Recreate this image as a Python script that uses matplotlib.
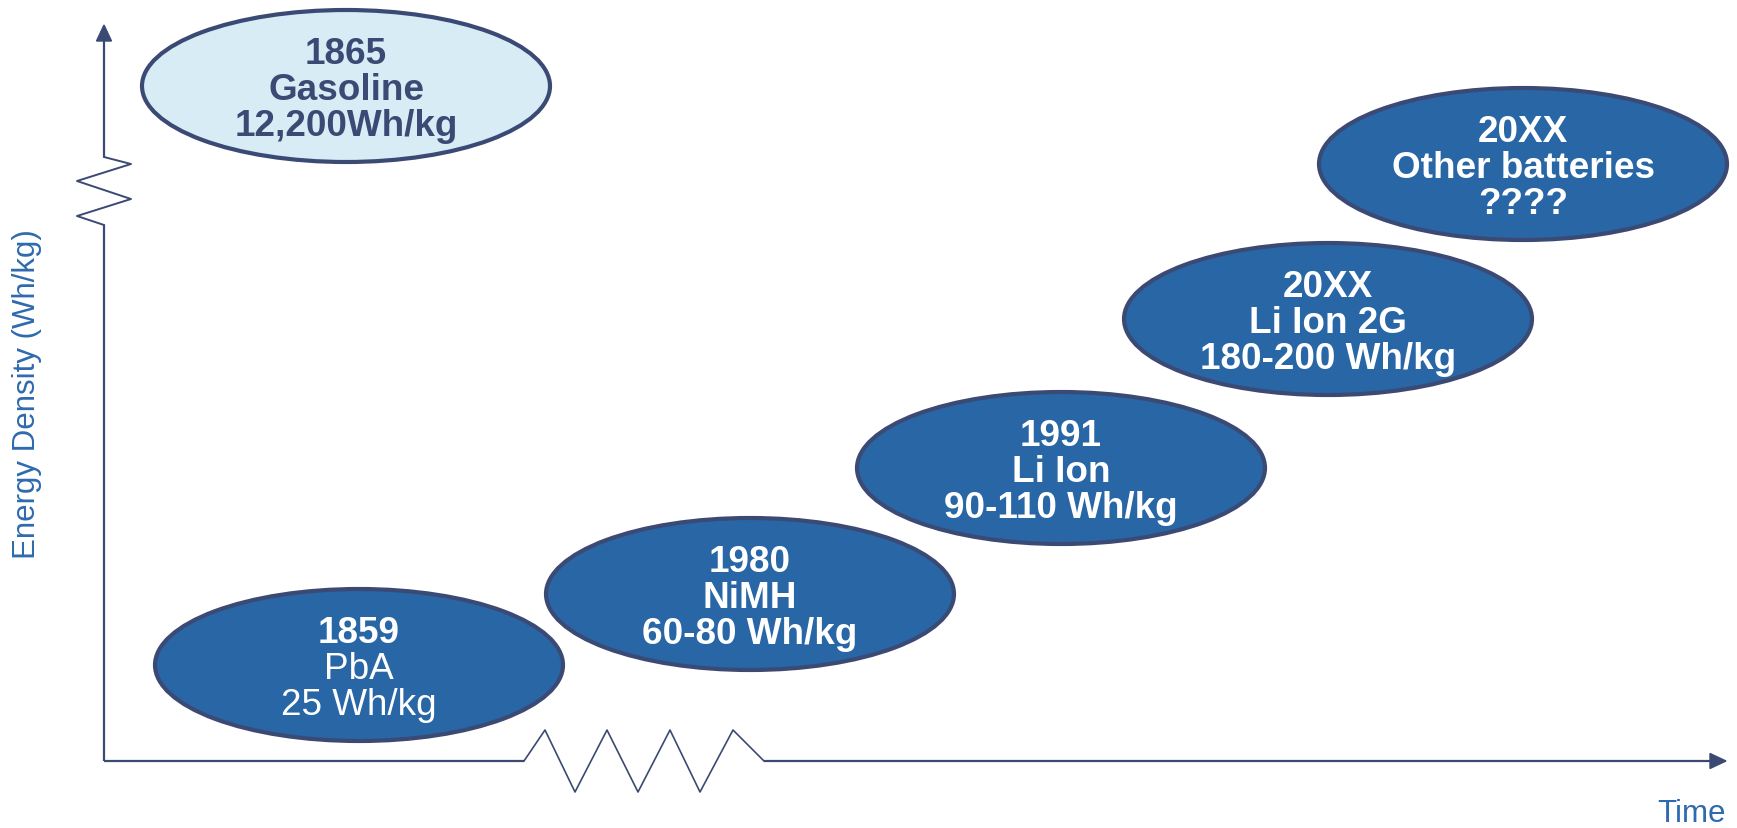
import matplotlib
matplotlib.use("Agg")
import matplotlib.pyplot as plt
from matplotlib.patches import Ellipse, Polygon

plt.rcParams['font.family'] = ['Liberation Sans', 'DejaVu Sans']

# milestones, oldest battery first, gasoline kept apart as the reference point
years = ["1859", "1980", "1991", "20XX", "20XX"]
techs = ["PbA", "NiMH", "Li Ion", "Li Ion 2G", "Other batteries"]
densities = ["25 Wh/kg", "60-80 Wh/kg", "90-110 Wh/kg", "180-200 Wh/kg", "????"]
bold_body = [False, True, True, True, True]

gas_year = "1865"
gas_name = "Gasoline"
gas_density = "12,200Wh/kg"

# layout in pixel units (figure is 1737 x 829)
W, H = 1737, 829
centers = [(359, 666), (750, 595), (1061, 469), (1328, 320), (1523, 165)]
gas_center = (346, 87)
ell_w, ell_h = 408, 152
line_gap = 36

navy = "#3B4A74"
fill_dark = "#2866A6"
fill_light = "#D7ECF5"
label_blue = "#2E6AAE"

fig = plt.figure(figsize=(W / 100, H / 100), dpi=100)
ax = fig.add_axes([0, 0, 1, 1])
ax.set_xlim(0, W)
ax.set_ylim(H, 0)
ax.axis("off")

# y axis with break
ax.plot([104, 104], [762, 226], color=navy, lw=1.6, solid_capstyle="butt")
ax.plot([104, 77, 131, 77, 131, 104], [226, 217, 200, 182, 165, 158], color=navy, lw=1.4)
ax.plot([104, 104], [158, 40], color=navy, lw=1.6, solid_capstyle="butt")
ax.add_patch(Polygon([(104, 26), (96.5, 42), (111.5, 42)], closed=True, color=navy))

# x axis with break
ax.plot([104, 524], [762, 762], color=navy, lw=1.6, solid_capstyle="butt")
ax.plot([524, 545, 575, 607, 638, 670, 700, 733, 764],
        [762, 731, 793, 731, 793, 731, 793, 731, 762], color=navy, lw=1.2)
ax.plot([764, 1712], [762, 762], color=navy, lw=1.6, solid_capstyle="butt")
ax.add_patch(Polygon([(1726, 762), (1710, 754.5), (1710, 769.5)], closed=True, color=navy))

ax.text(27, 394, "Energy Density (Wh/kg)", rotation=90, ha="center", va="center",
        fontsize=22.5, color=label_blue)
ax.text(1726, 822, "Time", ha="right", va="baseline", fontsize=22.5, color=label_blue)


def bubble(center, lines, weights, face, txt_color):
    cx, cy = center
    ax.add_patch(Ellipse((cx, cy), ell_w, ell_h, facecolor=face, edgecolor=navy,
                         lw=3.0, zorder=3))
    for i, (s, wt) in enumerate(zip(lines, weights)):
        ax.text(cx, cy + 13 + (i - 1) * line_gap, s, ha="center", va="baseline",
                fontsize=26.6, fontweight=wt, color=txt_color, zorder=4)


bubble(gas_center, [gas_year, gas_name, gas_density], ["bold"] * 3, fill_light, navy)

for c, y, t, d, b in zip(centers, years, techs, densities, bold_body):
    wt = "bold" if b else "normal"
    bubble(c, [y, t, d], ["bold", wt, wt], fill_dark, "white")

fig.savefig("out.png", dpi=100)
